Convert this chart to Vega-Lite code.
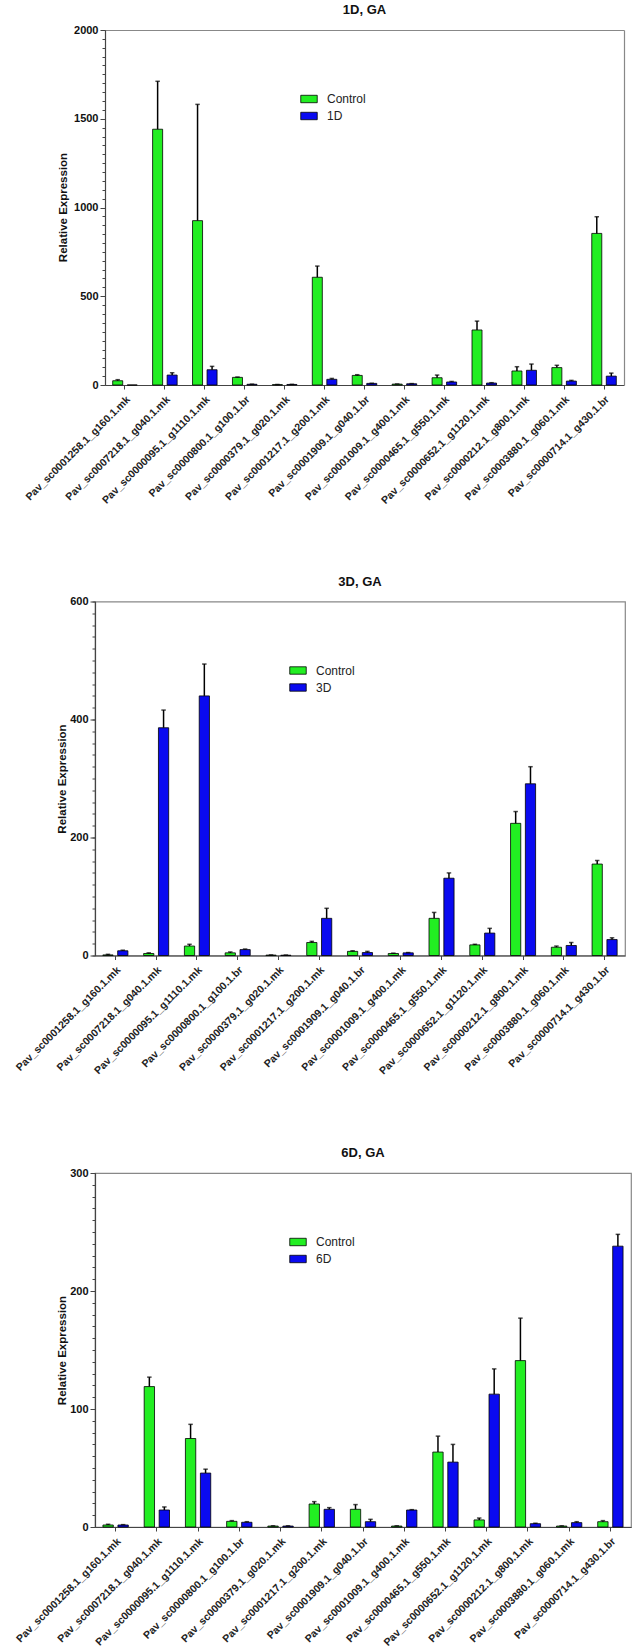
{
 "$schema": "https://vega.github.io/schema/vega-lite/v6.json",
 "background": "white",
 "padding": {"left": 0, "top": 4, "right": 0, "bottom": 0},
 "spacing": 68.5,
 "resolve": {"scale": {"color": "independent", "xOffset": "independent"}, "legend": {"color": "independent"}},
 "config": {
  "font": "Liberation Sans",
  "view": {"stroke": "#888888", "strokeWidth": 1.2},
  "axis": {"grid": false, "domainColor": "#444444", "tickColor": "#444444", "domainWidth": 1.2, "tickWidth": 1}
 },
 "datasets": {
  "d1": [
   {"gene":"Pav_sc0001258.1_g160.1.mk","group":"Control","value":24,"upper":30},
   {"gene":"Pav_sc0001258.1_g160.1.mk","group":"1D","value":0,"upper":0},
   {"gene":"Pav_sc0007218.1_g040.1.mk","group":"Control","value":1441,"upper":1711},
   {"gene":"Pav_sc0007218.1_g040.1.mk","group":"1D","value":56,"upper":69},
   {"gene":"Pav_sc0000095.1_g1110.1.mk","group":"Control","value":926,"upper":1581},
   {"gene":"Pav_sc0000095.1_g1110.1.mk","group":"1D","value":86,"upper":105},
   {"gene":"Pav_sc0000800.1_g100.1.br","group":"Control","value":43,"upper":45},
   {"gene":"Pav_sc0000800.1_g100.1.br","group":"1D","value":4,"upper":5},
   {"gene":"Pav_sc0000379.1_g020.1.mk","group":"Control","value":2,"upper":3},
   {"gene":"Pav_sc0000379.1_g020.1.mk","group":"1D","value":3,"upper":4},
   {"gene":"Pav_sc0001217.1_g200.1.mk","group":"Control","value":607,"upper":670},
   {"gene":"Pav_sc0001217.1_g200.1.mk","group":"1D","value":32,"upper":37},
   {"gene":"Pav_sc0001909.1_g040.1.br","group":"Control","value":54,"upper":58},
   {"gene":"Pav_sc0001909.1_g040.1.br","group":"1D","value":9,"upper":10},
   {"gene":"Pav_sc0001009.1_g400.1.mk","group":"Control","value":5,"upper":6},
   {"gene":"Pav_sc0001009.1_g400.1.mk","group":"1D","value":7,"upper":8},
   {"gene":"Pav_sc0000465.1_g550.1.mk","group":"Control","value":41,"upper":56},
   {"gene":"Pav_sc0000465.1_g550.1.mk","group":"1D","value":17,"upper":20},
   {"gene":"Pav_sc0000652.1_g1120.1.mk","group":"Control","value":310,"upper":360},
   {"gene":"Pav_sc0000652.1_g1120.1.mk","group":"1D","value":11,"upper":13},
   {"gene":"Pav_sc0000212.1_g800.1.mk","group":"Control","value":79,"upper":103},
   {"gene":"Pav_sc0000212.1_g800.1.mk","group":"1D","value":83,"upper":118},
   {"gene":"Pav_sc0003880.1_g060.1.mk","group":"Control","value":98,"upper":111},
   {"gene":"Pav_sc0003880.1_g060.1.mk","group":"1D","value":22,"upper":26},
   {"gene":"Pav_sc0000714.1_g430.1.br","group":"Control","value":854,"upper":948},
   {"gene":"Pav_sc0000714.1_g430.1.br","group":"1D","value":50,"upper":67}
  ],
  "d2": [
   {"gene":"Pav_sc0001258.1_g160.1.mk","group":"Control","value":1,"upper":2},
   {"gene":"Pav_sc0001258.1_g160.1.mk","group":"3D","value":8,"upper":9},
   {"gene":"Pav_sc0007218.1_g040.1.mk","group":"Control","value":3.4,"upper":4.5},
   {"gene":"Pav_sc0007218.1_g040.1.mk","group":"3D","value":386,"upper":416},
   {"gene":"Pav_sc0000095.1_g1110.1.mk","group":"Control","value":16,"upper":19},
   {"gene":"Pav_sc0000095.1_g1110.1.mk","group":"3D","value":440,"upper":494},
   {"gene":"Pav_sc0000800.1_g100.1.br","group":"Control","value":4.5,"upper":6},
   {"gene":"Pav_sc0000800.1_g100.1.br","group":"3D","value":10,"upper":11},
   {"gene":"Pav_sc0000379.1_g020.1.mk","group":"Control","value":0.7,"upper":1},
   {"gene":"Pav_sc0000379.1_g020.1.mk","group":"3D","value":0.5,"upper":0.8},
   {"gene":"Pav_sc0001217.1_g200.1.mk","group":"Control","value":22,"upper":24},
   {"gene":"Pav_sc0001217.1_g200.1.mk","group":"3D","value":63,"upper":80},
   {"gene":"Pav_sc0001909.1_g040.1.br","group":"Control","value":7,"upper":8},
   {"gene":"Pav_sc0001909.1_g040.1.br","group":"3D","value":5,"upper":7},
   {"gene":"Pav_sc0001009.1_g400.1.mk","group":"Control","value":3.4,"upper":4},
   {"gene":"Pav_sc0001009.1_g400.1.mk","group":"3D","value":4.5,"upper":5},
   {"gene":"Pav_sc0000465.1_g550.1.mk","group":"Control","value":63,"upper":73},
   {"gene":"Pav_sc0000465.1_g550.1.mk","group":"3D","value":131,"upper":140},
   {"gene":"Pav_sc0000652.1_g1120.1.mk","group":"Control","value":18,"upper":19},
   {"gene":"Pav_sc0000652.1_g1120.1.mk","group":"3D","value":38,"upper":46},
   {"gene":"Pav_sc0000212.1_g800.1.mk","group":"Control","value":224,"upper":244},
   {"gene":"Pav_sc0000212.1_g800.1.mk","group":"3D","value":291,"upper":320},
   {"gene":"Pav_sc0003880.1_g060.1.mk","group":"Control","value":14,"upper":16},
   {"gene":"Pav_sc0003880.1_g060.1.mk","group":"3D","value":17,"upper":22},
   {"gene":"Pav_sc0000714.1_g430.1.br","group":"Control","value":155,"upper":161},
   {"gene":"Pav_sc0000714.1_g430.1.br","group":"3D","value":27,"upper":30}
  ],
  "d3": [
   {"gene":"Pav_sc0001258.1_g160.1.mk","group":"Control","value":1.7,"upper":2.3},
   {"gene":"Pav_sc0001258.1_g160.1.mk","group":"6D","value":1.7,"upper":2},
   {"gene":"Pav_sc0007218.1_g040.1.mk","group":"Control","value":119,"upper":127},
   {"gene":"Pav_sc0007218.1_g040.1.mk","group":"6D","value":14.4,"upper":17},
   {"gene":"Pav_sc0000095.1_g1110.1.mk","group":"Control","value":75,"upper":87},
   {"gene":"Pav_sc0000095.1_g1110.1.mk","group":"6D","value":45.7,"upper":49},
   {"gene":"Pav_sc0000800.1_g100.1.br","group":"Control","value":4.8,"upper":5.4},
   {"gene":"Pav_sc0000800.1_g100.1.br","group":"6D","value":4,"upper":4.5},
   {"gene":"Pav_sc0000379.1_g020.1.mk","group":"Control","value":0.8,"upper":1},
   {"gene":"Pav_sc0000379.1_g020.1.mk","group":"6D","value":0.8,"upper":1},
   {"gene":"Pav_sc0001217.1_g200.1.mk","group":"Control","value":19.5,"upper":21.5},
   {"gene":"Pav_sc0001217.1_g200.1.mk","group":"6D","value":15,"upper":16.4},
   {"gene":"Pav_sc0001909.1_g040.1.br","group":"Control","value":15,"upper":19},
   {"gene":"Pav_sc0001909.1_g040.1.br","group":"6D","value":4.5,"upper":6.5},
   {"gene":"Pav_sc0001009.1_g400.1.mk","group":"Control","value":0.8,"upper":1},
   {"gene":"Pav_sc0001009.1_g400.1.mk","group":"6D","value":14.4,"upper":14.7},
   {"gene":"Pav_sc0000465.1_g550.1.mk","group":"Control","value":63.5,"upper":77},
   {"gene":"Pav_sc0000465.1_g550.1.mk","group":"6D","value":55,"upper":70},
   {"gene":"Pav_sc0000652.1_g1120.1.mk","group":"Control","value":6,"upper":7.6},
   {"gene":"Pav_sc0000652.1_g1120.1.mk","group":"6D","value":112.6,"upper":134},
   {"gene":"Pav_sc0000212.1_g800.1.mk","group":"Control","value":141,"upper":177},
   {"gene":"Pav_sc0000212.1_g800.1.mk","group":"6D","value":2.8,"upper":3.2},
   {"gene":"Pav_sc0003880.1_g060.1.mk","group":"Control","value":0.8,"upper":1},
   {"gene":"Pav_sc0003880.1_g060.1.mk","group":"6D","value":3.7,"upper":4.5},
   {"gene":"Pav_sc0000714.1_g430.1.br","group":"Control","value":4.5,"upper":5.4},
   {"gene":"Pav_sc0000714.1_g430.1.br","group":"6D","value":238,"upper":248}
  ]
 },
 "vconcat": [
  {
   "data": {"name": "d1"},
   "title": {"text": "1D, GA", "fontSize": 13, "fontWeight": "bold", "color": "#111111", "anchor": "middle", "frame": "group", "baseline": "alphabetic", "offset": -3, "dx": 5},
   "width": 529, "height": 355,
   "view": {"stroke": null},
   "layer": [
    {"mark": {"type": "bar", "stroke": "black", "strokeWidth": 0.8},
     "encoding": {
      "x": {"field": "gene", "type": "nominal", "scale": {"domain": ["Pav_sc0001258.1_g160.1.mk","Pav_sc0007218.1_g040.1.mk","Pav_sc0000095.1_g1110.1.mk","Pav_sc0000800.1_g100.1.br","Pav_sc0000379.1_g020.1.mk","Pav_sc0001217.1_g200.1.mk","Pav_sc0001909.1_g040.1.br","Pav_sc0001009.1_g400.1.mk","Pav_sc0000465.1_g550.1.mk","Pav_sc0000652.1_g1120.1.mk","Pav_sc0000212.1_g800.1.mk","Pav_sc0003880.1_g060.1.mk","Pav_sc0000714.1_g430.1.br"], "range": [10, 529], "paddingInner": 0, "paddingOuter": 0},
       "axis": {"title": null, "labelAngle": -45, "labelFontSize": 10.5, "labelFontWeight": "bold", "labelColor": "#222222", "tickSize": 4, "labelPadding": 5, "labelOverlap": false, "labelLimit": 0}},
      "xOffset": {"field": "group", "type": "nominal", "scale": {"domain": ["Control","1D"], "paddingInner": 0.31, "paddingOuter": 0.53}},
      "y": {"field": "value", "type": "quantitative", "scale": {"domain": [0, 2000], "nice": false},
       "axis": {"offset": -10, "values": [0,500,1000,1500,2000], "format": "d", "title": "Relative Expression", "titleFontSize": 11.5, "titleFontWeight": "bold", "titleColor": "#111111", "titleX": -42, "titleY": 177, "titleAngle": 270, "titleAlign": "center", "titleBaseline": "middle", "labelFontSize": 11, "labelFontWeight": "bold", "labelColor": "#111111", "tickSize": 5, "labelPadding": 2}},
      "color": {"field": "group", "type": "nominal", "scale": {"domain": ["Control","1D"], "range": ["#22ee22","#0a0af0"]},
       "legend": {"orient": "none", "legendX": 205, "legendY": 60, "title": null, "symbolType": "M-1,-0.45H1V0.45H-1Z", "symbolSize": 272, "symbolStrokeColor": "black", "symbolStrokeWidth": 0.8, "labelFontSize": 12, "labelColor": "#222222", "labelOffset": 9, "rowPadding": 2, "encode": {"symbols": {"update": {"stroke": {"value": "black"}, "strokeWidth": {"value": 0.8}}}}}}
     }},
    {"transform": [{"filter": "datum.upper > datum.value"}],
     "mark": {"type": "rule", "strokeWidth": 1.5, "color": "black"},
     "encoding": {
      "x": {"field": "gene", "type": "nominal", "axis": null},
      "xOffset": {"field": "group", "type": "nominal"},
      "y": {"field": "value", "type": "quantitative",
       "axis": {"orient": "right", "labels": false, "ticks": false, "title": null, "domainColor": "#888888", "domainWidth": 1.2}},
      "y2": {"field": "upper"}}},
    {"transform": [{"filter": "datum.upper > datum.value"}],
     "mark": {"type": "tick", "thickness": 1.5, "size": 4.5, "color": "black"},
     "encoding": {
      "x": {"field": "gene", "type": "nominal", "axis": {"orient": "top", "labels": false, "ticks": false, "title": null, "domainColor": "#888888", "domainWidth": 1.2}},
      "xOffset": {"field": "group", "type": "nominal"},
      "y": {"field": "upper", "type": "quantitative",
      "axis": {"orient": "left", "offset": -10, "values": [0,50,100,150,200,250,300,350,400,450,500,550,600,650,700,750,800,850,900,950,1000,1050,1100,1150,1200,1250,1300,1350,1400,1450,1500,1550,1600,1650,1700,1750,1800,1850,1900,1950,2000], "labels": false, "domain": false, "tickSize": 3, "title": ".", "titleX": -104, "titleY": 0, "titleAngle": 0, "titleAlign": "left", "titleBaseline": "top", "titleOpacity": 0}}}}
   ],
   "resolve": {"scale": {"y": "shared", "x": "shared"}, "axis": {"y": "independent", "x": "independent"}}
  },
  {
   "data": {"name": "d2"},
   "title": {"text": "3D, GA", "fontSize": 13, "fontWeight": "bold", "color": "#111111", "anchor": "middle", "frame": "group", "baseline": "alphabetic", "offset": -3},
   "width": 530, "height": 354,
   "encoding": {
    "x": {"field": "gene", "type": "nominal", "scale": {"domain": ["Pav_sc0001258.1_g160.1.mk","Pav_sc0007218.1_g040.1.mk","Pav_sc0000095.1_g1110.1.mk","Pav_sc0000800.1_g100.1.br","Pav_sc0000379.1_g020.1.mk","Pav_sc0001217.1_g200.1.mk","Pav_sc0001909.1_g040.1.br","Pav_sc0001009.1_g400.1.mk","Pav_sc0000465.1_g550.1.mk","Pav_sc0000652.1_g1120.1.mk","Pav_sc0000212.1_g800.1.mk","Pav_sc0003880.1_g060.1.mk","Pav_sc0000714.1_g430.1.br"], "paddingInner": 0, "paddingOuter": 0},
      "axis": {"title": null, "labelAngle": -45, "labelFontSize": 10.5, "labelFontWeight": "bold", "labelColor": "#222222", "tickSize": 4, "labelPadding": 5, "labelOverlap": false, "labelLimit": 0}},
    "xOffset": {"field": "group", "type": "nominal", "scale": {"domain": ["Control","3D"], "paddingInner": 0.31, "paddingOuter": 0.53}}
   },
   "layer": [
    {"mark": {"type": "bar", "stroke": "black", "strokeWidth": 0.8},
     "encoding": {
      "y": {"field": "value", "type": "quantitative", "scale": {"domain": [0, 600], "nice": false},
       "axis": {"values": [0,200,400,600], "format": "d", "title": "Relative Expression", "titleFontSize": 11.5, "titleFontWeight": "bold", "titleColor": "#111111", "titleX": -33, "titleY": 177, "titleAngle": 270, "titleAlign": "center", "titleBaseline": "middle", "labelFontSize": 11, "labelFontWeight": "bold", "labelColor": "#111111", "tickSize": 5, "labelPadding": 2}},
      "color": {"field": "group", "type": "nominal", "scale": {"domain": ["Control","3D"], "range": ["#22ee22","#0a0af0"]},
       "legend": {"orient": "none", "legendX": 194, "legendY": 60, "title": null, "symbolType": "M-1,-0.45H1V0.45H-1Z", "symbolSize": 272, "symbolStrokeColor": "black", "symbolStrokeWidth": 0.8, "labelFontSize": 12, "labelColor": "#222222", "labelOffset": 9, "rowPadding": 2, "encode": {"symbols": {"update": {"stroke": {"value": "black"}, "strokeWidth": {"value": 0.8}}}}}}
     }},
    {"transform": [{"filter": "datum.upper > datum.value"}],
     "mark": {"type": "rule", "strokeWidth": 1.5, "color": "black"},
     "encoding": {"y": {"field": "value", "type": "quantitative", "axis": null}, "y2": {"field": "upper"}}},
    {"transform": [{"filter": "datum.upper > datum.value"}],
     "mark": {"type": "tick", "thickness": 1.5, "size": 4.5, "color": "black"},
     "encoding": {"y": {"field": "upper", "type": "quantitative",
      "axis": {"orient": "left", "values": [0,20,40,60,80,100,120,140,160,180,200,220,240,260,280,300,320,340,360,380,400,420,440,460,480,500,520,540,560,580,600], "labels": false, "domain": false, "tickSize": 3, "title": ".", "titleX": -94, "titleY": 0, "titleAngle": 0, "titleAlign": "left", "titleBaseline": "top", "titleOpacity": 0}}}}
   ],
   "resolve": {"scale": {"y": "shared"}, "axis": {"y": "independent"}}
  },
  {
   "data": {"name": "d3"},
   "title": {"text": "6D, GA", "fontSize": 13, "fontWeight": "bold", "color": "#111111", "anchor": "middle", "frame": "group", "baseline": "alphabetic", "offset": -3},
   "width": 536, "height": 354,
   "encoding": {
    "x": {"field": "gene", "type": "nominal", "scale": {"domain": ["Pav_sc0001258.1_g160.1.mk","Pav_sc0007218.1_g040.1.mk","Pav_sc0000095.1_g1110.1.mk","Pav_sc0000800.1_g100.1.br","Pav_sc0000379.1_g020.1.mk","Pav_sc0001217.1_g200.1.mk","Pav_sc0001909.1_g040.1.br","Pav_sc0001009.1_g400.1.mk","Pav_sc0000465.1_g550.1.mk","Pav_sc0000652.1_g1120.1.mk","Pav_sc0000212.1_g800.1.mk","Pav_sc0003880.1_g060.1.mk","Pav_sc0000714.1_g430.1.br"], "paddingInner": 0, "paddingOuter": 0},
      "axis": {"title": null, "labelAngle": -45, "labelFontSize": 10.5, "labelFontWeight": "bold", "labelColor": "#222222", "tickSize": 4, "labelPadding": 5, "labelOverlap": false, "labelLimit": 0}},
    "xOffset": {"field": "group", "type": "nominal", "scale": {"domain": ["Control","6D"], "paddingInner": 0.31, "paddingOuter": 0.53}}
   },
   "layer": [
    {"mark": {"type": "bar", "stroke": "black", "strokeWidth": 0.8},
     "encoding": {
      "y": {"field": "value", "type": "quantitative", "scale": {"domain": [0, 300], "nice": false},
       "axis": {"values": [0,100,200,300], "format": "d", "title": "Relative Expression", "titleFontSize": 11.5, "titleFontWeight": "bold", "titleColor": "#111111", "titleX": -33, "titleY": 177, "titleAngle": 270, "titleAlign": "center", "titleBaseline": "middle", "labelFontSize": 11, "labelFontWeight": "bold", "labelColor": "#111111", "tickSize": 5, "labelPadding": 2}},
      "color": {"field": "group", "type": "nominal", "scale": {"domain": ["Control","6D"], "range": ["#22ee22","#0a0af0"]},
       "legend": {"orient": "none", "legendX": 194, "legendY": 60, "title": null, "symbolType": "M-1,-0.45H1V0.45H-1Z", "symbolSize": 272, "symbolStrokeColor": "black", "symbolStrokeWidth": 0.8, "labelFontSize": 12, "labelColor": "#222222", "labelOffset": 9, "rowPadding": 2, "encode": {"symbols": {"update": {"stroke": {"value": "black"}, "strokeWidth": {"value": 0.8}}}}}}
     }},
    {"transform": [{"filter": "datum.upper > datum.value"}],
     "mark": {"type": "rule", "strokeWidth": 1.5, "color": "black"},
     "encoding": {"y": {"field": "value", "type": "quantitative", "axis": null}, "y2": {"field": "upper"}}},
    {"transform": [{"filter": "datum.upper > datum.value"}],
     "mark": {"type": "tick", "thickness": 1.5, "size": 4.5, "color": "black"},
     "encoding": {"y": {"field": "upper", "type": "quantitative",
      "axis": {"orient": "left", "values": [0,10,20,30,40,50,60,70,80,90,100,110,120,130,140,150,160,170,180,190,200,210,220,230,240,250,260,270,280,290,300], "labels": false, "domain": false, "tickSize": 3, "title": ".", "titleX": -94, "titleY": 0, "titleAngle": 0, "titleAlign": "left", "titleBaseline": "top", "titleOpacity": 0}}}}
   ],
   "resolve": {"scale": {"y": "shared"}, "axis": {"y": "independent"}}
  }
 ]
}
